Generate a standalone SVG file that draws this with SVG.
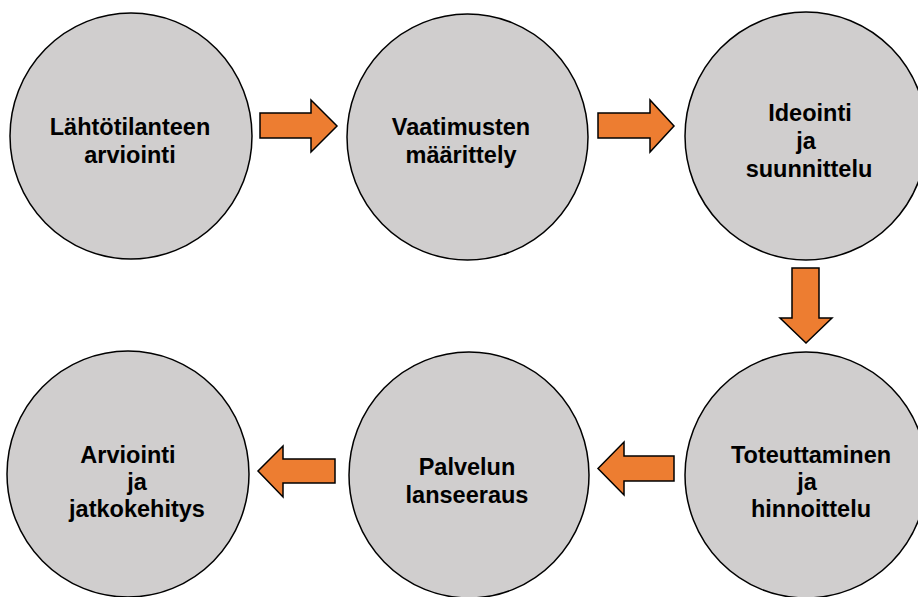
<svg xmlns="http://www.w3.org/2000/svg" width="918" height="597" viewBox="0 0 918 597">
<style>
.node ellipse{fill:#D0CECE;stroke:#000;stroke-width:1.5}
.node text{font-family:"Liberation Sans",Arial,sans-serif;font-weight:bold;font-size:23.5px;fill:#000;text-anchor:middle}
.arrow{fill:#ED7D31;stroke:#000;stroke-width:1.5;stroke-linejoin:miter}
</style>
<rect width="918" height="597" fill="#fff"/>
<g id="connectors">
<polygon class="arrow" points="260,113 311,113 311,100 337,126 311,152 311,138 260,138"/>
<polygon class="arrow" points="598,113 650,113 650,100 674,126 650,152 650,138 598,138"/>
<polygon class="arrow" points="792,268 819,268 819,318 832,318 806,343 780,318 792,318"/>
<polygon class="arrow" points="674,456 624,456 624,442 598,468.5 624,495 624,481 674,481"/>
<polygon class="arrow" points="335,459 283,459 283,446 258,471 283,497 283,483 335,483"/>
</g>
<g id="n1" class="node">
<ellipse cx="131" cy="136" rx="121" ry="123"/>
<text x="130" y="135">Lähtötilanteen</text>
<text x="130" y="163">arviointi</text>
</g>
<g id="n2" class="node">
<ellipse cx="467.5" cy="137" rx="120.5" ry="123"/>
<text x="461" y="135">Vaatimusten</text>
<text x="461" y="163">määrittely</text>
</g>
<g id="n3" class="node">
<ellipse cx="806" cy="136" rx="121" ry="124"/>
<text x="810" y="121">Ideointi</text>
<text x="806" y="149">ja</text>
<text x="809" y="177">suunnittelu</text>
</g>
<g id="n4" class="node">
<ellipse cx="806" cy="475" rx="121" ry="123"/>
<text x="811" y="463">Toteuttaminen</text>
<text x="807" y="490">ja</text>
<text x="811" y="517">hinnoittelu</text>
</g>
<g id="n5" class="node">
<ellipse cx="469" cy="475" rx="120" ry="123"/>
<text x="467" y="475">Palvelun</text>
<text x="467" y="503">lanseeraus</text>
</g>
<g id="n6" class="node">
<ellipse cx="128" cy="474" rx="121" ry="123"/>
<text x="128" y="463">Arviointi</text>
<text x="137" y="490">ja</text>
<text x="137" y="517">jatkokehitys</text>
</g>
</svg>
